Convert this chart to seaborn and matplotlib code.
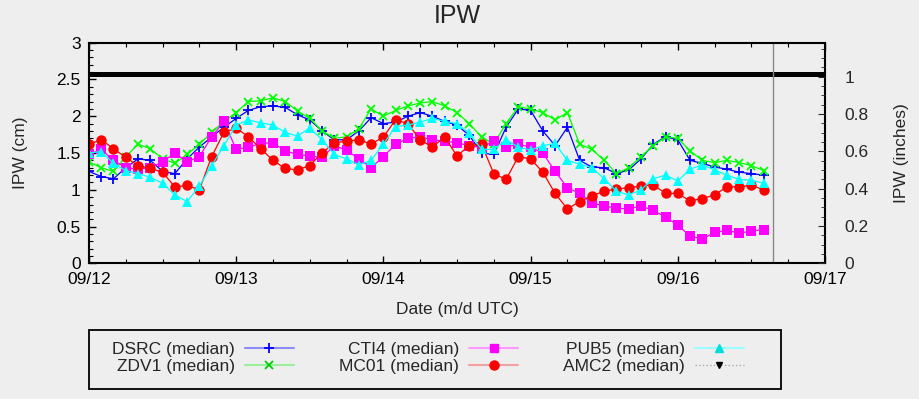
import numpy as np
import pandas as pd
import matplotlib
matplotlib.use("Agg")
import matplotlib.pyplot as plt
import matplotlib.dates as mdates
from matplotlib.lines import Line2D
from matplotlib.patches import Rectangle
from matplotlib.ticker import MultipleLocator, FuncFormatter
import seaborn as sns

# ---------------- data (2-hourly medians) ----------------
times = pd.date_range("2013-09-12 00:00", periods=56, freq="2h")

dsrc = [1.25, 1.18, 1.15, 1.30, 1.42, 1.40, 1.25, 1.22, 1.42, 1.58, 1.72, 1.85,
        1.97, 2.08, 2.13, 2.14, 2.12, 2.02, 1.95, 1.80, 1.68, 1.68, 1.80, 1.98,
        1.90, 1.92, 2.00, 2.05, 2.00, 1.93, 1.88, 1.74, 1.50, 1.48, 1.85, 2.10,
        2.08, 1.80, 1.60, 1.85, 1.40, 1.31, 1.30, 1.22, 1.27, 1.42, 1.62, 1.72,
        1.68, 1.40, 1.36, 1.31, 1.28, 1.24, 1.22, 1.20]
zdv1 = [1.38, 1.30, 1.25, 1.45, 1.62, 1.56, 1.42, 1.36, 1.48, 1.62, 1.78, 1.93,
        2.05, 2.20, 2.21, 2.25, 2.20, 2.07, 1.97, 1.80, 1.70, 1.72, 1.83, 2.10,
        2.00, 2.08, 2.14, 2.18, 2.20, 2.14, 2.05, 1.90, 1.72, 1.62, 1.90, 2.13,
        2.10, 2.05, 1.95, 2.05, 1.62, 1.55, 1.40, 1.22, 1.30, 1.45, 1.60, 1.72,
        1.70, 1.53, 1.40, 1.37, 1.40, 1.37, 1.33, 1.26]
cti4 = [1.48, 1.55, 1.40, 1.30, 1.28, 1.30, 1.38, 1.50, 1.38, 1.45, 1.72, 1.93,
        1.55, 1.58, 1.63, 1.64, 1.53, 1.48, 1.46, 1.44, 1.60, 1.54, 1.42, 1.30,
        1.45, 1.62, 1.70, 1.72, 1.68, 1.66, 1.64, 1.60, 1.58, 1.66, 1.58, 1.62,
        1.58, 1.50, 1.25, 1.03, 0.95, 0.82, 0.78, 0.75, 0.74, 0.78, 0.72, 0.63,
        0.52, 0.37, 0.33, 0.42, 0.45, 0.41, 0.44, 0.46]
mc01 = [1.62, 1.68, 1.56, 1.44, 1.33, 1.29, 1.24, 1.04, 1.06, 1.00, 1.45, 1.78,
        1.84, 1.72, 1.56, 1.40, 1.29, 1.27, 1.33, 1.50, 1.64, 1.66, 1.68, 1.62,
        1.72, 1.95, 1.90, 1.68, 1.58, 1.72, 1.46, 1.60, 1.62, 1.22, 1.14, 1.45,
        1.42, 1.24, 0.95, 0.74, 0.84, 0.92, 0.98, 1.01, 1.03, 1.05, 1.07, 0.95,
        0.95, 0.85, 0.88, 0.93, 1.04, 1.04, 1.06, 1.00]
pub5 = [1.50, 1.52, 1.36, 1.26, 1.22, 1.17, 1.09, 0.93, 0.84, 1.05, 1.33, 1.60,
        1.88, 1.95, 1.91, 1.88, 1.78, 1.73, 1.84, 1.68, 1.48, 1.42, 1.34, 1.40,
        1.62, 1.86, 1.88, 1.92, 1.97, 1.93, 1.90, 1.77, 1.55, 1.55, 1.68, 1.58,
        1.54, 1.60, 1.63, 1.40, 1.35, 1.30, 1.15, 0.98, 0.93, 1.00, 1.15, 1.20,
        1.12, 1.28, 1.34, 1.27, 1.20, 1.14, 1.13, 1.09]
amc2_times = pd.to_datetime(["2013-09-12 00:00", "2013-09-17 00:00"])
amc2 = [2.58, 2.58]
now_time = pd.Timestamp("2013-09-16 15:30")

labels = ["DSRC (median)", "ZDV1 (median)", "CTI4 (median)",
          "MC01 (median)", "PUB5 (median)", "AMC2 (median)"]
x_start, x_end = pd.Timestamp("2013-09-12"), pd.Timestamp("2013-09-17")

# ---------------- style ----------------
sns.set_style("ticks")
BG = "#eeeeee"
plt.rcParams["font.family"] = ["Liberation Sans", "DejaVu Sans"]
plt.rcParams["axes.facecolor"] = BG
plt.rcParams["figure.facecolor"] = BG
FS = 12.5

fig = plt.figure(figsize=(9.19, 3.99), dpi=100)
ax = fig.add_axes([0.0968, 0.340, 0.8009, 0.553])
ax.set_facecolor(BG)

series = [
    (dsrc, "#0000ff", "+", 7, 1.3),
    (zdv1, "#00ff00", "x", 6, 1.3),
    (cti4, "#ff00ff", "s", 7, 0),
    (mc01, "#ff0000", "o", 7.5, 0),
    (pub5, "#00ffff", "^", 7, 0),
]
for vals, col, mk, ms, mew in series:
    d = pd.DataFrame({"time": times, "ipw": vals})
    sns.lineplot(data=d, x="time", y="ipw", ax=ax, color=col, marker=mk,
                 markersize=ms, markeredgewidth=mew,
                 markeredgecolor=col, markerfacecolor=col, linewidth=0.9)

ax.plot(amc2_times, amc2, color="black", linewidth=3.6, solid_capstyle="butt")
ax.axvline(now_time, color="#888888", linewidth=1.0)

ax.set_xlim(x_start, x_end)
ax.set_ylim(0, 3)
ax.xaxis.set_major_locator(mdates.DayLocator())
ax.xaxis.set_minor_locator(mdates.HourLocator(byhour=[6, 12, 18]))
ax.xaxis.set_major_formatter(mdates.DateFormatter("%m/%d"))
ax.yaxis.set_major_locator(MultipleLocator(0.5))
ax.yaxis.set_minor_locator(MultipleLocator(0.1))
ax.yaxis.set_major_formatter(FuncFormatter(lambda v, p: f"{v:g}"))
ax.tick_params(which="both", direction="in", top=True, right=False, labelsize=FS,
               colors="black")
ax.tick_params(which="major", length=5, width=1.0)
ax.tick_params(which="minor", length=3, width=0.8)
ax.tick_params(axis="x", pad=6)
ax.tick_params(axis="y", pad=6)
for s in ax.spines.values():
    s.set_linewidth(1.5)
    s.set_color("black")

ax.set_xlabel("Date (m/d UTC)", fontsize=FS, labelpad=11)
ax.set_ylabel("IPW (cm)", fontsize=FS, labelpad=20)
ax.set_title("IPW", fontsize=18, pad=14)

ax2 = ax.twinx()
ax2.set_ylim(0, 3 / 2.54)
ax2.yaxis.set_major_locator(MultipleLocator(0.2))
ax2.yaxis.set_minor_locator(MultipleLocator(0.05))
ax2.yaxis.set_major_formatter(FuncFormatter(lambda v, p: f"{v:g}"))
ax2.tick_params(which="both", direction="in", labelsize=FS, right=True, left=False)
ax2.tick_params(which="major", length=5)
ax2.tick_params(which="minor", length=3)
ax2.tick_params(axis="y", pad=14)
ax2.set_ylabel("IPW (inches)", fontsize=FS, labelpad=18)
for s in ax2.spines.values():
    s.set_visible(False)

# ---------------- legend ----------------
handles = [
    Line2D([], [], color="#8c8cff", lw=1.5, marker="+", ms=7, mec="#0000ff", mew=1.3),
    Line2D([], [], color="#99f099", lw=1.5, marker="x", ms=6, mec="#00cc00", mew=1.3),
    Line2D([], [], color="#ff99ff", lw=1.5, marker="s", ms=6, mfc="#ff00ff", mec="#ff00ff"),
    Line2D([], [], color="#f2a0a0", lw=1.5, marker="o", ms=6.5, mfc="#ff0000", mec="#ff0000"),
    Line2D([], [], color="#99ffff", lw=1.5, marker="^", ms=6, mfc="#00dddd", mec="#00dddd"),
    Line2D([], [], color="#aaaaaa", lw=1.0, ls=":", marker="v", ms=5, mfc="black", mec="black"),
]
W, H = 919.0, 399.0
leg = fig.legend(handles, labels, ncol=3, loc="upper left",
                 bbox_to_anchor=(112 / W, 1 - 342 / H),
                 markerfirst=False, frameon=False, fontsize=FS,
                 handlelength=2.8, handletextpad=0.6, labelspacing=0.12,
                 borderpad=0, borderaxespad=0, columnspacing=2.6)
fig.patches.append(Rectangle((89 / W, 1 - 389 / H), (781 - 89) / W, (389 - 330) / H,
                             transform=fig.transFigure, fill=False,
                             edgecolor="black", linewidth=1.3))

fig.savefig("out.png", dpi=100, facecolor=BG)
